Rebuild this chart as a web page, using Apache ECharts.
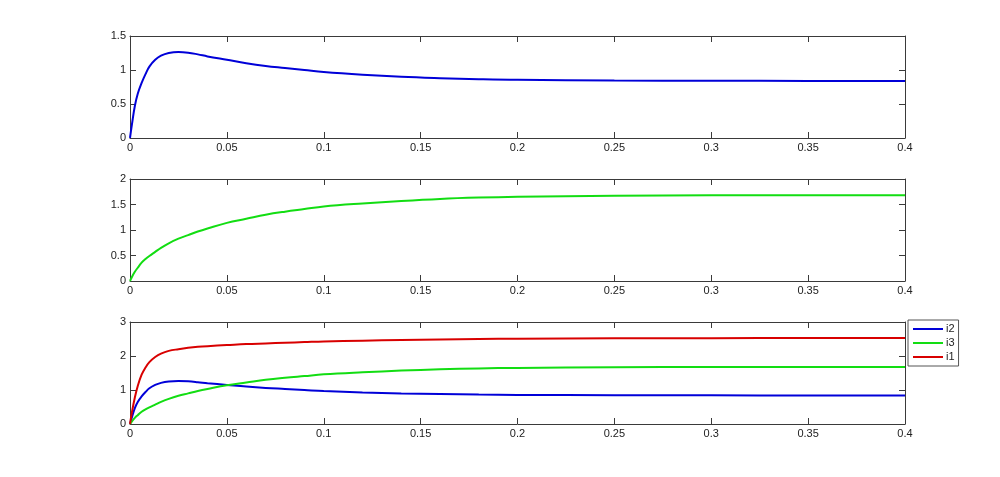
<!DOCTYPE html>
<html>
<head>
<meta charset="utf-8">
<script src="https://cdn.jsdelivr.net/npm/echarts@6/dist/echarts.min.js"></script>
<style>
html,body{margin:0;padding:0;background:#fff;}
#c{width:1000px;height:477px;}
</style>
</head>
<body>
<div id="c"></div>
<script>
// time samples (s)
var t = [0, 0.001, 0.0025, 0.004, 0.006, 0.008, 0.010, 0.013, 0.016, 0.020, 0.025, 0.030, 0.035, 0.040, 0.050, 0.060, 0.070, 0.080, 0.090, 0.100, 0.120, 0.140, 0.160, 0.180, 0.200, 0.250, 0.300, 0.350, 0.400];
// i2 (blue)
var i2 = [0, 0.20, 0.47, 0.65, 0.81, 0.94, 1.05, 1.15, 1.21, 1.25, 1.265, 1.255, 1.23, 1.20, 1.15, 1.10, 1.06, 1.03, 1.00, 0.97, 0.93, 0.90, 0.88, 0.865, 0.855, 0.846, 0.842, 0.840, 0.840];
// i3 (green)
var i3 = [0, 0.08, 0.18, 0.26, 0.36, 0.43, 0.49, 0.57, 0.65, 0.74, 0.83, 0.90, 0.97, 1.03, 1.14, 1.22, 1.30, 1.36, 1.41, 1.46, 1.52, 1.57, 1.61, 1.635, 1.65, 1.67, 1.68, 1.68, 1.68];
// i1 (red)
var i1 = [0, 0.35, 0.78, 1.12, 1.45, 1.66, 1.82, 1.97, 2.07, 2.15, 2.20, 2.24, 2.27, 2.29, 2.32, 2.35, 2.37, 2.39, 2.41, 2.43, 2.45, 2.47, 2.485, 2.50, 2.51, 2.52, 2.525, 2.53, 2.53];

var xTicks = ['0', '0.05', '0.1', '0.15', '0.2', '0.25', '0.3', '0.35', '0.4'];
var yRanges = [[0, 1.5, 0.5], [0, 2, 0.5], [0, 3, 1]];
var legendNames = ['i2', 'i3', 'i1'];

function pairs(ys) { return t.map(function (x, k) { return [x, ys[k]]; }); }

var axisColor = '#3a3a3a';
var labelStyle = { color: '#222', fontSize: 11, fontFamily: 'Liberation Sans, Arial, sans-serif' };
var tops = [36, 179, 322];
var grids = [], xAxes = [], yAxes = [], series = [];
tops.forEach(function (top, g) {
  grids.push({ left: 130, right: 95, top: top, height: 102, containLabel: false });
  var xBase = {
    type: 'value', gridIndex: g, min: 0, max: 0.4, interval: 0.05,
    axisLine: { show: true, onZero: false, lineStyle: { color: axisColor, width: 1 } },
    axisTick: { show: true, inside: true, length: 6, lineStyle: { color: axisColor } },
    splitLine: { show: false }
  };
  xAxes.push(Object.assign({}, xBase, {
    position: 'bottom',
    axisLabel: Object.assign({ margin: 4, formatter: function (v) { return xTicks[Math.round(v / 0.05)]; } }, labelStyle)
  }));
  xAxes.push(Object.assign({}, xBase, { position: 'top', axisLabel: { show: false } }));
  var r = yRanges[g];
  var yBase = {
    type: 'value', gridIndex: g, min: r[0], max: r[1], interval: r[2],
    axisLine: { show: true, onZero: false, lineStyle: { color: axisColor, width: 1 } },
    axisTick: { show: true, inside: true, length: 6, lineStyle: { color: axisColor } },
    splitLine: { show: false }
  };
  yAxes.push(Object.assign({}, yBase, { position: 'left', axisLabel: Object.assign({ margin: 4 }, labelStyle) }));
  yAxes.push(Object.assign({}, yBase, { position: 'right', axisLabel: { show: false } }));
});

function line(name, ys, color, g) {
  return {
    name: name, type: 'line', data: pairs(ys), xAxisIndex: g * 2, yAxisIndex: g * 2,
    showSymbol: false, smooth: 0.4,
    lineStyle: { color: color, width: 2 }, itemStyle: { color: color },
    animation: false, clip: true
  };
}
var cBlue = '#0000d8', cGreen = '#12dd12', cRed = '#d80000';
series.push(line('i2', i2, cBlue, 0));
series.push(line('i3', i3, cGreen, 1));
series.push(line('i2', i2, cBlue, 2));
series.push(line('i3', i3, cGreen, 2));
series.push(line('i1', i1, cRed, 2));

var chart = echarts.init(document.getElementById('c'), null, { renderer: 'canvas' });
chart.setOption({
  backgroundColor: '#fff',
  animation: false,
  grid: grids,
  xAxis: xAxes,
  yAxis: yAxes,
  legend: {
    data: legendNames, orient: 'vertical', left: 908, top: 320,
    icon: 'rect', itemWidth: 30, itemHeight: 2, itemGap: 2,
    padding: [3, 4, 3, 5],
    borderColor: '#555', borderWidth: 1, backgroundColor: '#fff',
    textStyle: { color: '#222', fontSize: 11, lineHeight: 12, padding: [0, 0, 0, -2], fontFamily: 'Liberation Sans, Arial, sans-serif' },
    selectedMode: false
  },
  series: series
});
</script>
</body>
</html>
